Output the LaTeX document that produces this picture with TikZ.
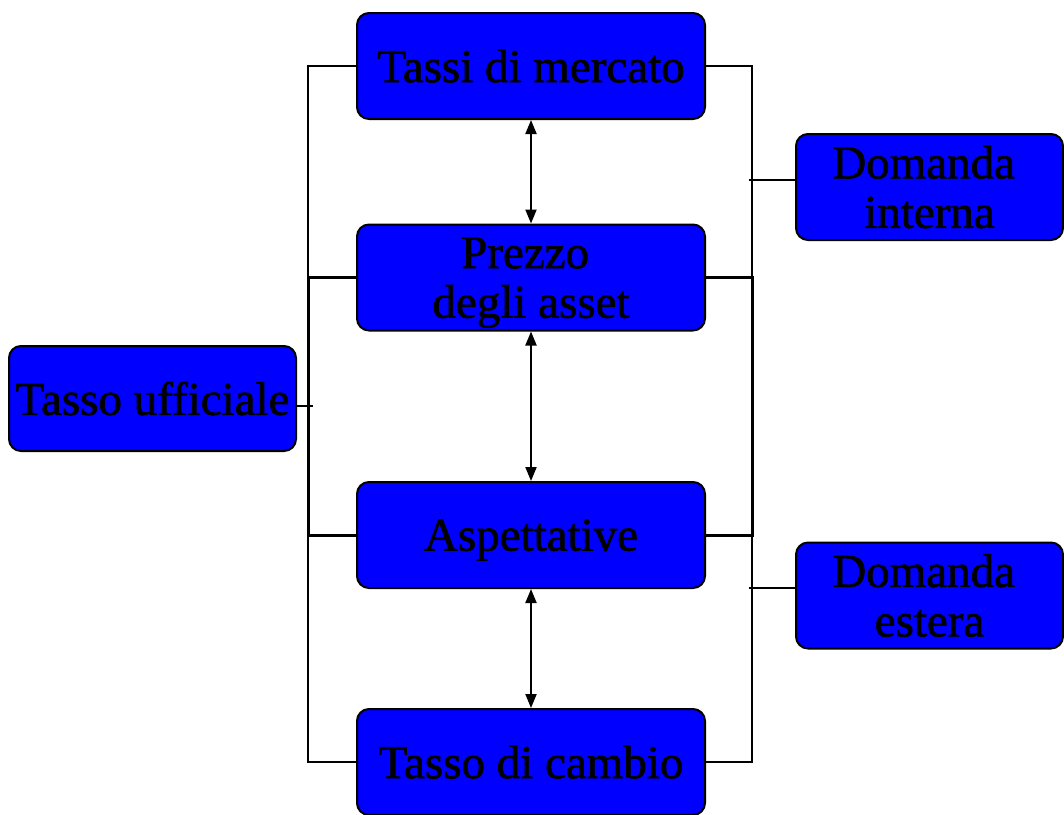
\documentclass[tikz,border=0pt]{standalone}
\usepackage{fontspec}
\setmainfont{Liberation Serif}[FakeBold=1.5]
\usetikzlibrary{arrows.meta}
\newcommand{\nodepth}[1]{\raisebox{0pt}[\height][0pt]{#1}}
\newcommand{\tsp}{\hspace*{0.25em}}
\begin{document}
\begin{tikzpicture}[x=1pt,y=-1pt,
  box/.style={draw=black, line width=2pt, fill=blue, rounded corners=12pt,
    minimum width=348pt, minimum height=106pt, inner sep=0pt, align=center,
    font=\fontsize{47}{49.5}\selectfont, text=black},
  conn/.style={line width=2pt, draw=black},
  thick conn/.style={line width=3pt, draw=black},
  dbl/.style={line width=2pt, {Triangle[length=14pt,width=11pt]}-{Triangle[length=14pt,width=11pt]}}]
\useasboundingbox (0,0) rectangle (1064,814);
\node[box] (tm) at (531,66) {Tassi di mercato};
\node[box] (pa) at (531,277.5) {Prezzo\tsp\\\nodepth{degli asset}};
\node[box] (as) at (531,535) {\nodepth{Aspettative}};
\node[box] (tc) at (531,762) {Tasso di cambio};
\node[box, minimum width=287pt, minimum height=105pt] (tu) at (152.5,398.5) {Tasso ufficiale};
\node[box, minimum width=267pt] (di) at (929.5,187) {Domanda\tsp\\interna};
\node[box, minimum width=267pt] (de) at (929.5,595.5) {Domanda\tsp\\estera};
\coordinate (L) at (308,0);
\coordinate (R) at (752,0);
\coordinate (tuend) at (313,406);
\coordinate (diend) at (749,180);
\coordinate (deend) at (749,588);
% left bracket
\draw[conn] (tm.west) -- (tm.west -| L) -- (tc.west -| L) -- (tc.west);
\draw[thick conn] (pa.west) -- (pa.west -| L) -- (as.west -| L) -- (as.west);
\draw[conn] (tuend -| tu.east) -- (tuend);
% right bracket
\draw[conn] (tm.east) -- (tm.east -| R) -- (tc.east -| R) -- (tc.east);
\draw[thick conn] (pa.east) -- (pa.east -| R) -- (as.east -| R) -- (as.east);
\draw[conn] (diend -| di.west) -- (diend);
\draw[conn] (deend -| de.west) -- (deend);
% vertical double arrows
\draw[dbl] (tm.south) -- (pa.north);
\draw[dbl] (pa.south) -- (as.north);
\draw[dbl] (as.south) -- (tc.north);
\end{tikzpicture}
\end{document}
